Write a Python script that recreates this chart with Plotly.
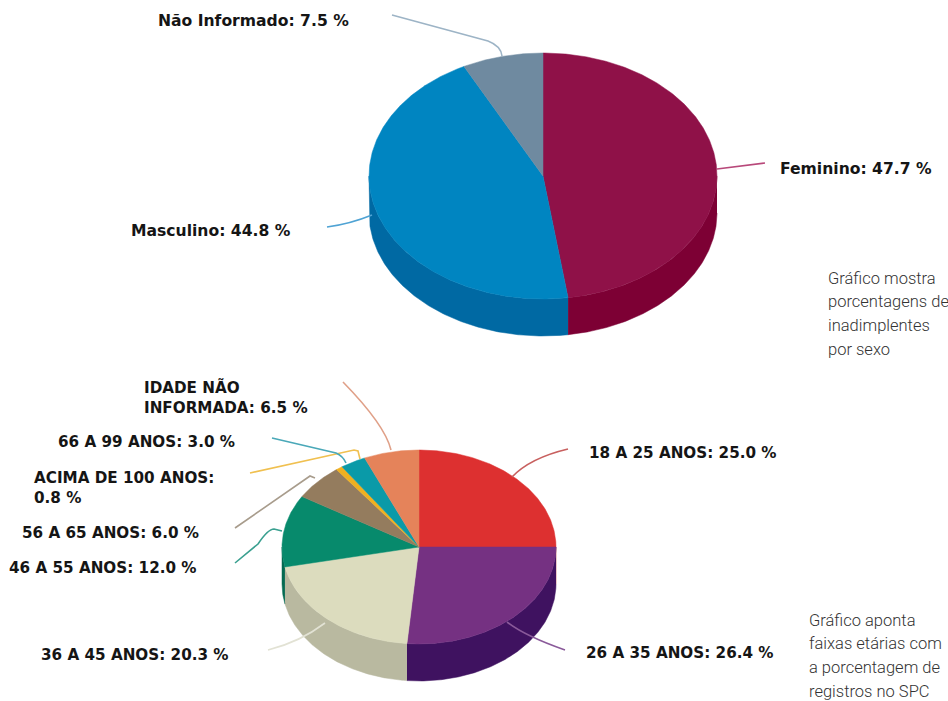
import numpy as np
import plotly.graph_objects as go

# ---- data ----
sex_names = ["Feminino", "Masculino", "Não Informado"]
sex_values = [47.7, 44.8, 7.5]
sex_colors = ["#8f1148", "#0085c1", "#6f8aa0"]
sex_side = ["#7d0034", "#0069a3", "#5a7488"]
sex_line = ["#b8487a", "#4fa3d4", "#9db4c6"]

age_names = ["18 A 25 ANOS", "26 A 35 ANOS", "36 A 45 ANOS", "46 A 55 ANOS", "56 A 65 ANOS",
             "ACIMA DE 100 ANOS:<br>", "66 A 99 ANOS", "IDADE NÃO<br>INFORMADA"]
age_values = [25.0, 26.4, 20.3, 12.0, 6.0, 0.8, 3.0, 6.5]
age_colors = ["#dd3030", "#753182", "#dcdcbe", "#078a6c", "#947c5e", "#f0b020", "#0a9aa8", "#e5835a"]
age_side = ["#b02020", "#3f1260", "#b9b9a0", "#056a52", "#75604a", "#c08a10", "#087a86", "#c0684a"]
age_line = ["#c8605f", "#8a5a9a", "#e2e2d4", "#3aa090", "#a89c8c", "#f0c050", "#4aa8b8", "#e0a088"]

caption_sex = ["Gráfico mostra", "porcentagens de", "inadimplentes", "por sexo"]
caption_age = ["Gráfico aponta", "faixas etárias com", "a porcentagem de", "registros no SPC"]

# ---- layout constants (pixels) ----
W, H = 948, 701
PIE_SEX = dict(cx=543, cy=176, rx=174, ry=123, depth=37)
PIE_AGE = dict(cx=419, cy=547, rx=137, ry=97, depth=37)
SEX_FONT = dict(family="DejaVu Sans", size=15.6, color="#151515", weight="bold")
AGE_FONT = dict(family="DejaVu Sans", size=15.2, color="#151515", weight="bold")

sex_label_pos = [(158, 21), (131, 231), (780, 169)]
sex_label_pos = [(780, 169), (131, 231), (158, 21)]
age_label_pos = [(589, 453), (586, 653), (41, 655), (9, 568), (22, 533), (34, 488), (58, 442), (144, 397)]

sex_leaders = [
    "M717,169 L765,163",
    "M372,215 Q350,224 327,227",
    "M502,56 Q501,46 488,41 L392,15",
]
age_leaders = [
    "M512,477 Q530,458 568,449",
    "M507,622 Q525,636 565,650",
    "M325,623 Q300,642 268,650",
    "M282,531 L274,529 Q268,529 258,544 L235,563",
    "M315,478 L310,476 L235,528",
    "M360,459 L358,451 L354,450 L250,473",
    "M346,463 Q343,456 336,453 L272,438",
    "M391,450 Q385,425 343,382",
]

fig = go.Figure()


def arc(p, a0, a1, dy=0.0):
    t = np.radians(np.linspace(a0, a1, max(int(abs(a1 - a0)) * 2, 2) + 1))
    return p["cx"] + p["rx"] * np.sin(t), p["cy"] - p["ry"] * np.cos(t) + dy


def draw_pie(p, names, values, colors, sides):
    edges = np.concatenate([[0.0], np.cumsum(values)]) / np.sum(values) * 360.0
    # sides: only the front half of the rim (90 to 270 degrees clockwise from top)
    for i in range(len(values)):
        a0, a1 = max(edges[i], 90.0), min(edges[i + 1], 270.0)
        if a1 <= a0:
            continue
        x0, y0 = arc(p, a0, a1)
        x1, y1 = arc(p, a1, a0, p["depth"])
        fig.add_trace(go.Scatter(
            x=np.concatenate([x0, x1]), y=np.concatenate([y0, y1]),
            mode="lines", fill="toself", fillcolor=sides[i],
            line=dict(color=sides[i], width=0.5), hoverinfo="skip", showlegend=False))
    # tops
    for i in range(len(values)):
        xa, ya = arc(p, edges[i], edges[i + 1])
        fig.add_trace(go.Scatter(
            x=np.concatenate([[p["cx"]], xa, [p["cx"]]]),
            y=np.concatenate([[p["cy"]], ya, [p["cy"]]]),
            mode="lines", fill="toself", fillcolor=colors[i],
            line=dict(color=colors[i], width=0.5), name=names[i].replace("<br>", " "),
            text=f"{values[i]:.1f} %", hoverinfo="name+text", showlegend=False))


draw_pie(PIE_SEX, sex_names, sex_values, sex_colors, sex_side)
draw_pie(PIE_AGE, age_names, age_values, age_colors, age_side)

shapes = []
for path, c in list(zip(sex_leaders, sex_line)) + list(zip(age_leaders, age_line)):
    shapes.append(dict(type="path", path=path, xref="x", yref="y", layer="above",
                       line=dict(color=c, width=1.6)))

annotations = []
NOPAD = dict(borderpad=0, borderwidth=0)
for n, v, (x, y) in list(zip(sex_names, sex_values, sex_label_pos)):
    annotations.append(dict(x=x, y=y, text=f"{n}: {v:.1f} %", xref="x", yref="y", xanchor="left",
                            yanchor="middle", align="left", showarrow=False, font=SEX_FONT, **NOPAD))
for n, v, (x, y) in list(zip(age_names, age_values, age_label_pos)):
    sep = "" if n.endswith("<br>") else ": "
    annotations.append(dict(x=x, y=y, text=f"{n}{sep}{v:.1f} %", xref="x", yref="y", xanchor="left",
                            yanchor="middle", align="left", showarrow=False, font=AGE_FONT, **NOPAD))

CAP_FONT = dict(family="Roboto", size=16.5, color="#333333", weight=300)
for x0, y0, lines in [(828, 278, caption_sex), (809, 620, caption_age)]:
    for k, line in enumerate(lines):
        annotations.append(dict(x=x0, y=y0 + k * 23.8, text=line, xref="x", yref="y", xanchor="left",
                                yanchor="middle", showarrow=False, font=CAP_FONT, **NOPAD))

fig.update_layout(
    width=W, height=H, margin=dict(l=0, r=0, t=0, b=0, pad=0),
    paper_bgcolor="white", plot_bgcolor="white", showlegend=False,
    xaxis=dict(range=[0, W], visible=False, fixedrange=True),
    yaxis=dict(range=[H, 0], visible=False, fixedrange=True),
    shapes=shapes, annotations=annotations,
)
fig.write_html("out.html", config=dict(displayModeBar=False),
               post_script="document.body.style.margin='0';document.body.style.overflow='hidden';")
